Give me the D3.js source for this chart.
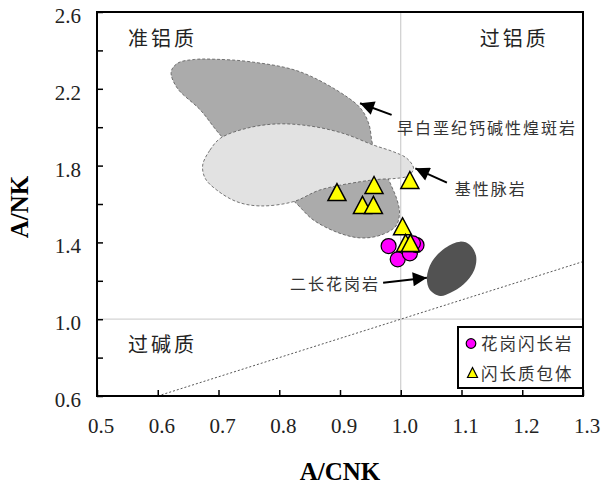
<!DOCTYPE html>
<html>
<head>
<meta charset="utf-8">
<script src="https://cdn.jsdelivr.net/npm/d3@7/dist/d3.min.js"></script>
<style>
  html, body { margin: 0; padding: 0; background: #fff; }
  svg { display: block; }
</style>
</head>
<body>
<svg id="chart" width="604" height="485"></svg>
<script>
// Axis ranges and ticks
const xDomain = [0.5, 1.3];
const yDomain = [0.6, 2.6];
const xTicks = [0.5, 0.6, 0.7, 0.8, 0.9, 1.0, 1.1, 1.2, 1.3];
const xTickLabels = ["0.5", "0.6", "0.7", "0.8", "0.9", "1.0", "1.1", "1.2", "1.3"];
const yTicks = [0.6, 0.8, 1.0, 1.2, 1.4, 1.6, 1.8, 2.0, 2.2, 2.4, 2.6];
const yTickLabels = ["0.6", "1.0", "1.4", "1.8", "2.2", "2.6"];

// Samples: [A/CNK, A/NK]
const granodiorite = [
  [0.980, 1.381], [0.995, 1.312], [1.015, 1.343], [1.026, 1.386], [1.020, 1.395]
];
const enclaves = [
  [0.895, 1.662], [0.956, 1.699], [0.937, 1.595], [0.955, 1.595],
  [1.015, 1.725], [1.003, 1.484], [1.008, 1.397], [1.016, 1.397]
];

// Reference fields (outlines in A/CNK, A/NK)
const lamprophyreField = [
  [0.622, 2.288], [0.633, 2.334], [0.661, 2.353], [0.694, 2.354], [0.752, 2.341],
  [0.834, 2.289], [0.912, 2.157], [0.936, 2.090], [0.948, 2.012], [0.954, 1.907],
  [0.969, 1.803], [0.984, 1.699], [0.994, 1.621], [0.998, 1.553], [0.992, 1.485],
  [0.968, 1.439], [0.936, 1.423], [0.900, 1.447], [0.856, 1.517], [0.829, 1.600],
  [0.777, 1.751], [0.706, 1.949], [0.670, 2.090], [0.632, 2.204]
];
const maficDykeField = [
  [0.674, 1.803], [0.686, 1.881], [0.703, 1.942], [0.746, 1.994], [0.796, 2.017],
  [0.851, 2.006], [0.905, 1.968], [0.955, 1.907], [0.988, 1.872], [1.010, 1.838],
  [1.021, 1.786], [1.012, 1.746], [0.991, 1.733], [0.966, 1.729], [0.933, 1.716],
  [0.867, 1.673], [0.823, 1.612], [0.768, 1.590], [0.730, 1.612], [0.697, 1.673],
  [0.678, 1.734]
];
const monzograniteField = [
  [1.098, 1.404], [1.114, 1.387], [1.124, 1.329], [1.121, 1.256], [1.104, 1.183],
  [1.081, 1.136], [1.065, 1.121], [1.048, 1.152], [1.043, 1.215], [1.051, 1.298],
  [1.073, 1.371]
];

// Field labels with arrows: arrow tail, arrow tip, label anchor
const fieldLabels = [
  { text: "早白垩纪钙碱性煌斑岩", tail: [0.985, 2.064], tip: [0.933, 2.125], at: [0.994, 2.003], anchor: "start" },
  { text: "基性脉岩", tail: [1.076, 1.711], tip: [1.024, 1.786], at: [1.089, 1.682], anchor: "start" },
  { text: "二长花岗岩", tail: [0.971, 1.190], tip: [1.043, 1.216], at: [0.966, 1.187], anchor: "end" }
];

// Domain names
const regionLabels = [
  { text: "准铝质", at: [0.551, 2.465] },
  { text: "过铝质", at: [1.130, 2.465] },
  { text: "过碱质", at: [0.551, 0.874] }
];

const legendItems = ["花岗闪长岩", "闪长质包体"];

const svg = d3.select("#chart");
const margin = { left: 97, top: 12, right: 21, bottom: 89 };
const W = 604, H = 485;
const x = d3.scaleLinear().domain(xDomain).range([margin.left, W - margin.right]);
const y = d3.scaleLinear().domain(yDomain).range([H - margin.bottom, margin.top]);

const serif = "'Liberation Serif', 'Times New Roman', serif";
const cjk = "'Noto Sans CJK SC', sans-serif";

const defs = svg.append("defs");
defs.append("marker")
  .attr("id", "arrowhead")
  .attr("viewBox", "0 0 10 10")
  .attr("refX", 10).attr("refY", 5)
  .attr("markerUnits", "userSpaceOnUse")
  .attr("markerWidth", 16).attr("markerHeight", 14)
  .attr("orient", "auto")
  .append("path").attr("d", "M0,0 L10,5 L0,10 Z").attr("fill", "#000");

const plot = svg.append("g");

// Fields
const closed = d3.line().x(d => x(d[0])).y(d => y(d[1])).curve(d3.curveCatmullRomClosed.alpha(0.5));
plot.append("path").datum(lamprophyreField)
  .attr("d", closed).attr("fill", "#ababab")
  .attr("stroke", "#555").attr("stroke-width", 0.8).attr("stroke-dasharray", "3,2");
plot.append("path").datum(maficDykeField)
  .attr("d", closed).attr("fill", "#e2e2e2")
  .attr("stroke", "#555").attr("stroke-width", 0.8).attr("stroke-dasharray", "3,2");
plot.append("path").datum(monzograniteField)
  .attr("d", closed).attr("fill", "#525252");

// Reference lines A/CNK = 1, A/NK = 1, and A/NK = A/CNK
plot.append("line")
  .attr("x1", x(1.0)).attr("x2", x(1.0)).attr("y1", y(yDomain[0])).attr("y2", y(yDomain[1]))
  .attr("stroke", "#c4c4c4").attr("stroke-width", 1);
plot.append("line")
  .attr("x1", x(xDomain[0])).attr("x2", x(xDomain[1])).attr("y1", y(1.0)).attr("y2", y(1.0))
  .attr("stroke", "#d4d4d4").attr("stroke-width", 1.2);
plot.append("line")
  .attr("x1", x(0.6)).attr("y1", y(0.6)).attr("x2", x(1.3)).attr("y2", y(1.3))
  .attr("stroke", "#444").attr("stroke-width", 0.9).attr("stroke-dasharray", "2,2");

// Region labels
plot.selectAll("text.region").data(regionLabels).join("text")
  .attr("class", "region")
  .attr("x", d => x(d.at[0])).attr("y", d => y(d.at[1]))
  .attr("dominant-baseline", "central")
  .attr("font-family", cjk).attr("font-size", 20).attr("letter-spacing", 3)
  .attr("fill", "#222")
  .text(d => d.text);

// Field labels and arrows
const fl = plot.selectAll("g.flabel").data(fieldLabels).join("g").attr("class", "flabel");
fl.append("line")
  .attr("x1", d => x(d.tail[0])).attr("y1", d => y(d.tail[1]))
  .attr("x2", d => x(d.tip[0])).attr("y2", d => y(d.tip[1]))
  .attr("stroke", "#000").attr("stroke-width", 2)
  .attr("marker-end", "url(#arrowhead)");
fl.append("text")
  .attr("x", d => x(d.at[0])).attr("y", d => y(d.at[1]))
  .attr("text-anchor", d => d.anchor)
  .attr("dominant-baseline", "central")
  .attr("font-family", cjk).attr("font-size", 16).attr("letter-spacing", 2)
  .attr("fill", "#333")
  .text(d => d.text);

// Triangle marker centred on its bounding box
function triangle(w, h) {
  return `M0,${-h / 2}L${w / 2},${h / 2}L${-w / 2},${h / 2}Z`;
}

// Samples: granodiorite beneath the enclaves
plot.selectAll("circle.gd").data(granodiorite).join("circle")
  .attr("class", "gd")
  .attr("cx", d => x(d[0])).attr("cy", d => y(d[1])).attr("r", 7.5)
  .attr("fill", "#ff00ff").attr("stroke", "#000").attr("stroke-width", 1.2);
plot.selectAll("path.enclave").data(enclaves).join("path")
  .attr("class", "enclave")
  .attr("transform", d => `translate(${x(d[0])},${y(d[1])})`)
  .attr("d", triangle(18, 17))
  .attr("fill", "#ffff00").attr("stroke", "#000").attr("stroke-width", 1.5)
  .attr("stroke-linejoin", "miter");

// Axes
const xAxis = d3.axisBottom(x).tickValues(xTicks).tickSizeInner(-6).tickSizeOuter(0).tickFormat("");
const yAxis = d3.axisLeft(y).tickValues(yTicks).tickSizeInner(-6).tickSizeOuter(0).tickFormat("");
const gx = svg.append("g").attr("transform", `translate(0,${y(yDomain[0])})`).call(xAxis);
const gy = svg.append("g").attr("transform", `translate(${x(xDomain[0])},0)`).call(yAxis);
[gx, gy].forEach(g => {
  g.select(".domain").remove();
  g.selectAll(".tick line").attr("stroke", "#000").attr("stroke-width", 1.5);
});

// Frame
svg.append("rect")
  .attr("x", x(xDomain[0])).attr("y", y(yDomain[1]))
  .attr("width", x(xDomain[1]) - x(xDomain[0]))
  .attr("height", y(yDomain[0]) - y(yDomain[1]))
  .attr("fill", "none").attr("stroke", "#000").attr("stroke-width", 2);

// Tick labels
svg.selectAll("text.xt").data(xTicks).join("text")
  .attr("class", "xt")
  .attr("x", (d, i) => x(d) + 4).attr("y", y(yDomain[0]) + 37)
  .attr("text-anchor", "middle")
  .attr("font-family", serif).attr("font-size", 21).attr("fill", "#222")
  .text((d, i) => xTickLabels[i]);
svg.selectAll("text.yt").data(yTickLabels).join("text")
  .attr("class", "yt")
  .attr("x", x(xDomain[0]) - 16).attr("y", d => y(+d) + 11)
  .attr("text-anchor", "end")
  .attr("font-family", serif).attr("font-size", 21).attr("fill", "#222")
  .text(d => d);

// Axis titles
svg.append("text")
  .attr("x", (x(xDomain[0]) + x(xDomain[1])) / 2 + 0).attr("y", 480)
  .attr("text-anchor", "middle")
  .attr("font-family", serif).attr("font-size", 25).attr("font-weight", "bold")
  .text("A/CNK");
svg.append("text")
  .attr("transform", `translate(28,${(y(yDomain[0]) + y(yDomain[1])) / 2 + 3}) rotate(-90)`)
  .attr("text-anchor", "middle")
  .attr("font-family", serif).attr("font-size", 25).attr("font-weight", "bold")
  .text("A/NK");

// Legend
const lg = svg.append("g");
const lgBox = { x0: 458, y0: 327, x1: x(xDomain[1]), y1: 388 };
lg.append("rect")
  .attr("x", lgBox.x0).attr("y", lgBox.y0)
  .attr("width", lgBox.x1 - lgBox.x0).attr("height", lgBox.y1 - lgBox.y0)
  .attr("fill", "#fff").attr("stroke", "#000").attr("stroke-width", 2);
lg.append("circle")
  .attr("cx", 471).attr("cy", 343.5).attr("r", 4.8)
  .attr("fill", "#ff00ff").attr("stroke", "#000").attr("stroke-width", 1.2);
lg.append("path")
  .attr("transform", "translate(472.5,372.5)")
  .attr("d", triangle(10, 10))
  .attr("fill", "#ffff00").attr("stroke", "#000").attr("stroke-width", 1.2);
lg.selectAll("text").data(legendItems).join("text")
  .attr("x", 481).attr("y", (d, i) => 343 + i * 30)
  .attr("dominant-baseline", "central")
  .attr("font-family", cjk).attr("font-size", 16.5).attr("letter-spacing", 2)
  .attr("fill", "#333")
  .text(d => d);
</script>
</body>
</html>
